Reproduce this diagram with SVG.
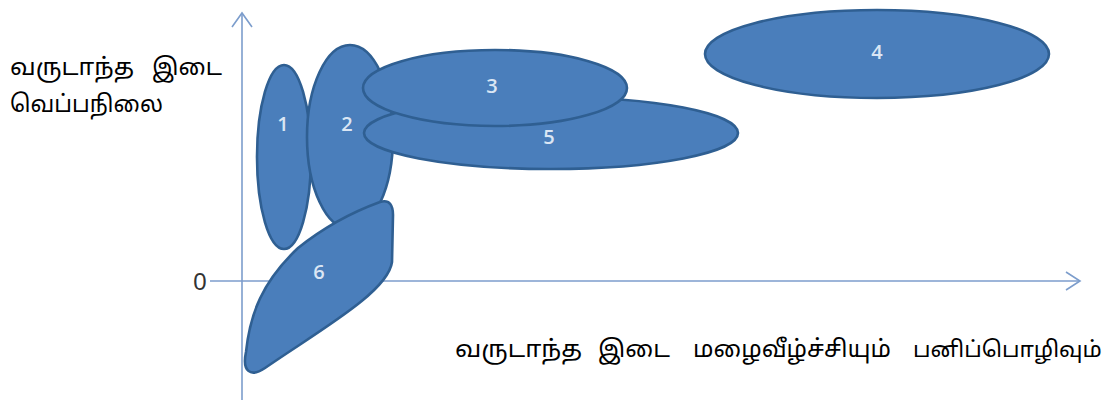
<svg xmlns="http://www.w3.org/2000/svg" width="1112" height="400" viewBox="0 0 1112 400">
  <style>
    .blob { fill: #4a7ebb; stroke: #2f5f92; stroke-width: 2.6; }
    .num { font-family: "Open Sans", "Liberation Sans", sans-serif; font-size: 20px; font-weight: 600; fill: #dbe6f4; text-anchor: middle; }
    .axis { stroke: #7c9dcc; stroke-width: 1.6; fill: none; }
    .label { font-family: "Noto Sans Tamil", "Latha", "Noto Sans", "DejaVu Sans", sans-serif; font-size: 24px; fill: #000; }
  </style>

  <!-- axes -->
  <g id="connectors">
    <line class="axis" x1="242" y1="400" x2="242" y2="13"/>
    <polyline class="axis" points="232,27 242,13 252,27"/>
    <line class="axis" x1="210" y1="281" x2="1080" y2="281"/>
    <polyline class="axis" points="1066,272 1080,281 1066,290"/>
  </g>

  <text x="200" y="290" font-family="Liberation Sans, sans-serif" font-size="24" text-anchor="middle" fill="#333">0</text>

  <g id="node-1">
    <ellipse class="blob" cx="284" cy="157" rx="27" ry="92"/>
    <text class="num" x="283" y="131">1</text>
  </g>
  <g id="node-2">
    <ellipse class="blob" cx="350" cy="137" rx="43" ry="92"/>
    <text class="num" x="347" y="131">2</text>
  </g>
  <g id="node-5">
    <ellipse class="blob" cx="551" cy="133" rx="187" ry="36"/>
    <text class="num" x="549" y="144">5</text>
  </g>
  <g id="node-3">
    <ellipse class="blob" cx="495" cy="88" rx="132" ry="38"/>
    <text class="num" x="492" y="93">3</text>
  </g>
  <g id="node-4">
    <ellipse class="blob" cx="877" cy="54" rx="172" ry="44"/>
    <text class="num" x="877" y="59">4</text>
  </g>
  <g id="node-6">
    <path class="blob" d="M 380 202 C 390 199, 393 206, 393 215 L 392 262 C 388 292, 320 330, 265 368 C 250 378, 242 371, 246 352 C 250 314, 262 282, 298 248 C 328 224, 358 210, 380 202 Z"/>
    <text class="num" x="319" y="279">6</text>
  </g>

  <!-- axis titles -->
  <g id="y-title" class="label">
    <text x="10" y="75" textLength="124" lengthAdjust="spacingAndGlyphs">வருடாந்த</text>
    <text x="152" y="75" textLength="70" lengthAdjust="spacingAndGlyphs">இடை</text>
    <text x="10" y="112" textLength="153" lengthAdjust="spacingAndGlyphs">வெப்பநிலை</text>
  </g>
  <g id="x-title" class="label">
    <text x="455" y="357" textLength="127" lengthAdjust="spacingAndGlyphs">வருடாந்த</text>
    <text x="598" y="357" textLength="72" lengthAdjust="spacingAndGlyphs">இடை</text>
    <text x="693" y="357" textLength="198" lengthAdjust="spacingAndGlyphs">மழைவீழ்ச்சியும்</text>
    <text x="913" y="357" font-size="22.5">பனிப்பொழிவும்</text>
  </g>
</svg>
